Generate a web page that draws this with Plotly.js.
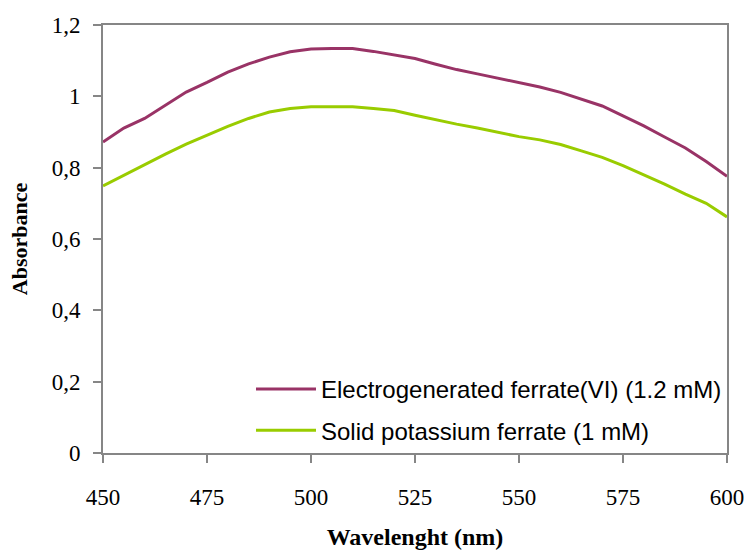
<!DOCTYPE html>
<html>
<head>
<meta charset="utf-8">
<script src="https://cdn.plot.ly/plotly-3.0.1.min.js"></script>
<style>html,body{margin:0;padding:0;background:#fff;}#chart{width:747px;height:550px;}</style>
</head>
<body>
<div id="chart"></div>
<script>
var wavelength = [450,455,460,465,470,475,480,485,490,495,500,505,510,515,520,525,530,535,540,545,550,555,560,565,570,575,580,585,590,595,600];
var electrogenerated = [0.872,0.911,0.938,0.975,1.012,1.039,1.068,1.091,1.110,1.125,1.133,1.134,1.134,1.126,1.117,1.106,1.090,1.075,1.063,1.051,1.037,1.026,1.011,0.992,0.973,0.945,0.917,0.886,0.855,0.817,0.776];
var solidPotassium = [0.749,0.779,0.809,0.838,0.866,0.891,0.916,0.938,0.956,0.966,0.971,0.971,0.971,0.966,0.960,0.947,0.934,0.922,0.911,0.898,0.887,0.878,0.865,0.847,0.829,0.806,0.781,0.754,0.726,0.700,0.662];
var seriesNames = ["Electrogenerated ferrate(VI) (1.2 mM)", "Solid potassium ferrate (1 mM)"];
var xTicks = [450,475,500,525,550,575,600];
var yTicks = [0,0.2,0.4,0.6,0.8,1,1.2];

var traces = [
  {x: wavelength, y: electrogenerated, name: seriesNames[0], type: 'scatter', mode: 'lines', legendgroup: 'a',
   line: {color: '#993366', width: 3}},
  {x: wavelength, y: solidPotassium, name: seriesNames[1], type: 'scatter', mode: 'lines', legendgroup: 'b',
   line: {color: '#99CC00', width: 3}}
];

var axisColor = '#868686';
var layout = {
  width: 747, height: 550,
  margin: {l: 103, r: 20, t: 25, b: 97},
  paper_bgcolor: '#ffffff', plot_bgcolor: '#ffffff',
  separators: ',.',
  showlegend: true,
  legend: {x: 1, xanchor: 'right', y: 0.0, yanchor: 'bottom', bgcolor: 'rgba(255,255,255,0)',
           font: {family: 'Liberation Sans, Arial, sans-serif', size: 24, color: '#000'},
           tracegroupgap: 7, itemwidth: 60},
  xaxis: {range: [450, 600], tickvals: xTicks, ticktext: xTicks.map(String),
          showgrid: false, zeroline: false, showline: true, mirror: true,
          linecolor: axisColor, linewidth: 2, ticks: 'outside', ticklen: 8, tickwidth: 2, tickcolor: axisColor,
          ticklabelstandoff: 14,
          tickfont: {family: 'Liberation Serif, Times New Roman, serif', size: 23, color: '#000'},
          title: {text: '<b>Wavelenght (nm)</b>', standoff: 20,
                  font: {family: 'Liberation Serif, Times New Roman, serif', size: 24, color: '#000'}}},
  yaxis: {range: [0, 1.2], tickvals: yTicks,
          showgrid: false, zeroline: false, showline: true, mirror: true,
          linecolor: axisColor, linewidth: 2, ticks: 'outside', ticklen: 8, tickwidth: 2, tickcolor: axisColor,
          ticklabelstandoff: 8,
          tickfont: {family: 'Liberation Serif, Times New Roman, serif', size: 23, color: '#000'},
          title: {text: '<b>Absorbance</b>', standoff: 18,
                  font: {family: 'Liberation Serif, Times New Roman, serif', size: 22, color: '#000'}}}
};

Plotly.newPlot('chart', traces, layout, {displayModeBar: false, staticPlot: true});
</script>
</body>
</html>
